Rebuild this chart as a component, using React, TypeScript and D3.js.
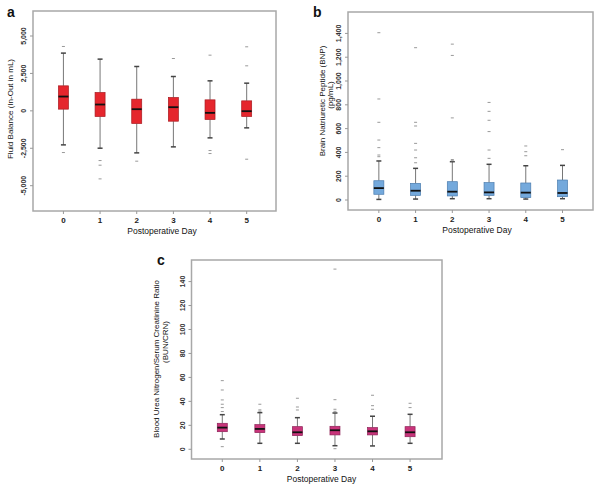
import React from "react";
import * as d3 from "d3";

const days = [0, 1, 2, 3, 4, 5];

// Panel a: Fluid balance (mL)
const fluidLow = [-2273, -2495, -2807, -2406, -1805, -1136];
const fluidQ1 = [114, -378, -846, -691, -579, -378];
const fluidMed = [956, 423, 111, 245, -134, -22];
const fluidQ3 = [1671, 1225, 780, 891, 735, 668];
const fluidHigh = [3857, 3455, 2963, 2294, 2005, 1849];
const fluidOut = [[4300, -2785], [-3320, -3630, -4545], [-3362], [3497], [3720, -2651, -2852], [4278, 3008, -3230]];
const fluidTicks = [-5000, -2500, 0, 2500, 5000];
const fluidTickLabels = ["-5,000", "-2,500", "0", "2,500", "5,000"];

// Panel b: BNP (pg/mL)
const bnpLow = [5, 8, 11, 11, 8, 11];
const bnpQ1 = [48, 39, 34, 39, 20, 28];
const bnpMed = [100, 78, 70, 64, 62, 59];
const bnpQ3 = [162, 140, 154, 146, 143, 168];
const bnpHigh = [328, 266, 322, 300, 288, 291];
const bnpOut = [[1406, 849, 653, 504, 440, 378, 364], [1280, 653, 622, 476, 420, 355, 313], [1310, 1215, 690, 340, 330], [820, 745, 670, 575, 420, 350], [454, 406, 372], [423]];
const bnpTicks = [0, 200, 400, 600, 800, 1000, 1200, 1400];
const bnpTickLabels = ["0", "200", "400", "600", "800", "1,000", "1,200", "1,400"];

// Panel c: BUN/CRN ratio
const bunLow = [8.6, 5, 5, 3, 2.8, 5];
const bunQ1 = [14.7, 13.9, 11.4, 12, 12, 10.5];
const bunMed = [18.1, 17, 14.2, 15.9, 15, 14.2];
const bunQ3 = [21.7, 20.6, 18.9, 19.2, 18.1, 18.9];
const bunHigh = [28.9, 30.6, 26.4, 30.3, 27.6, 29.2];
const bunOut = [[57.3, 49.5, 41.2, 37.6, 34.8, 31.5, 2.2], [37.6, 32.9, 31.8], [42.6, 35.3, 32.8], [150.4, 41.4, 33.4, 31.7, 0.5], [45.1, 36.4, 33.4], [38.4, 34.8]];
const bunTicks = [0, 20, 40, 60, 80, 100, 120, 140];
const bunTickLabels = ["0", "20", "40", "60", "80", "100", "120", "140"];

const FONT = "'Liberation Sans', Arial, sans-serif";

type PanelProps = {
  letter: string;
  letterX: number;
  letterY: number;
  x0: number; x1: number; y0: number; y1: number;
  xDom: [number, number];
  yDom: [number, number];
  low: number[]; q1: number[]; med: number[]; q3: number[]; high: number[]; out: number[][];
  ticks: number[]; tickLabels: string[];
  titles: { text: string; x: number; y: number }[];
  xTitleX: number;
  fill: string;
  stroke: string;
};

function Panel(p: PanelProps) {
  const x = d3.scaleLinear().domain(p.xDom).range([p.x0, p.x1]);
  const y = d3.scaleLinear().domain(p.yDom).range([p.y1, p.y0]);
  const bw = 10;
  const cap = 5;
  return (
    <g>
      <text x={p.letterX} y={p.letterY} fontFamily={FONT} fontWeight="bold" fontSize={14} fill="#111">{p.letter}</text>
      <rect x={p.x0} y={p.y0} width={p.x1 - p.x0} height={p.y1 - p.y0} fill="white" stroke="#a8a8a8" strokeWidth={1.5} />
      {p.ticks.map((t, i) => (
        <g key={"yt" + i}>
          <line x1={p.x0 - 3} x2={p.x0} y1={y(t)} y2={y(t)} stroke="#999" strokeWidth={1} />
          <text transform={`translate(${p.x0 - 7},${y(t)}) rotate(-90)`} textAnchor="middle" fontFamily={FONT} fontSize={7} fontWeight="bold" fill="#333">{p.tickLabels[i]}</text>
        </g>
      ))}
      {days.map((d, i) => (
        <g key={"xt" + i}>
          <line x1={x(d)} x2={x(d)} y1={p.y1} y2={p.y1 + 3} stroke="#999" strokeWidth={1} />
          <text x={x(d)} y={p.y1 + 12} textAnchor="middle" fontFamily={FONT} fontSize={8} fontWeight="bold" fill="#222">{d}</text>
        </g>
      ))}
      <text x={p.xTitleX} y={p.y1 + 22.5} textAnchor="middle" fontFamily={FONT} fontSize={8.5} fill="#111">Postoperative Day</text>
      {p.titles.map((t, i) => (
        <text key={"tt" + i} transform={`translate(${t.x},${t.y}) rotate(-90)`} textAnchor="middle" fontFamily={FONT} fontSize={8} fill="#111">{t.text}</text>
      ))}
      {days.map((d, i) => {
        const cx = x(d);
        return (
          <g key={"box" + i}>
            <line x1={cx} x2={cx} y1={y(p.high[i])} y2={y(p.q3[i])} stroke="#777" strokeWidth={1} />
            <line x1={cx} x2={cx} y1={y(p.q1[i])} y2={y(p.low[i])} stroke="#777" strokeWidth={1} />
            <line x1={cx - cap / 2} x2={cx + cap / 2} y1={y(p.high[i])} y2={y(p.high[i])} stroke="#444" strokeWidth={1.5} />
            <line x1={cx - cap / 2} x2={cx + cap / 2} y1={y(p.low[i])} y2={y(p.low[i])} stroke="#444" strokeWidth={1.5} />
            <rect x={cx - bw / 2} y={y(p.q3[i])} width={bw} height={y(p.q1[i]) - y(p.q3[i])} fill={p.fill} stroke={p.stroke} strokeWidth={0.7} />
            <line x1={cx - bw / 2} x2={cx + bw / 2} y1={y(p.med[i])} y2={y(p.med[i])} stroke="#111" strokeWidth={1.8} />
            {p.out[i].map((v, j) => (
              <line key={j} x1={cx - 1.5} x2={cx + 1.5} y1={y(v)} y2={y(v)} stroke="#999" strokeWidth={1} />
            ))}
          </g>
        );
      })}
    </g>
  );
}

export default function App() {
  return (
    <svg width={601} height={488} style={{ position: "absolute", left: 0, top: 0, background: "white" }}>
      <rect width={601} height={488} fill="white" />
      <Panel
        letter="a" letterX={7} letterY={17}
        x0={33} x1={276} y0={11} y1={211}
        xDom={[-0.83, 5.8]} yDom={[-6690, 6670]}
        low={fluidLow} q1={fluidQ1} med={fluidMed} q3={fluidQ3} high={fluidHigh} out={fluidOut}
        ticks={fluidTicks} tickLabels={fluidTickLabels}
        titles={[{ text: "Fluid Balance (In-Out in mL)", x: 13, y: 109 }]}
        xTitleX={162}
        fill="#e5262d" stroke="#a81a20"
      />
      <Panel
        letter="b" letterX={313} letterY={17}
        x0={348} x1={593} y0={12} y1={210}
        xDom={[-0.84, 5.83]} yDom={[-84, 1580]}
        low={bnpLow} q1={bnpQ1} med={bnpMed} q3={bnpQ3} high={bnpHigh} out={bnpOut}
        ticks={bnpTicks} tickLabels={bnpTickLabels}
        titles={[{ text: "Brain Natriuretic Peptide (BNP)", x: 324.5, y: 101 }, { text: "(pg/mL)", x: 333, y: 95 }]}
        xTitleX={477}
        fill="#74a9dc" stroke="#4a7cae"
      />
      <Panel
        letter="c" letterX={157} letterY={265}
        x0={191.5} x1={442} y0={260} y1={459}
        xDom={[-0.82, 5.85]} yDom={[-8.1, 158]}
        low={bunLow} q1={bunQ1} med={bunMed} q3={bunQ3} high={bunHigh} out={bunOut}
        ticks={bunTicks} tickLabels={bunTickLabels}
        titles={[{ text: "Blood Urea Nitrogen/Serum Creatinine Ratio", x: 159, y: 359 }, { text: "(BUN/CRN)", x: 168, y: 342 }]}
        xTitleX={321.5}
        fill="#c8347a" stroke="#8e2257"
      />
    </svg>
  );
}
